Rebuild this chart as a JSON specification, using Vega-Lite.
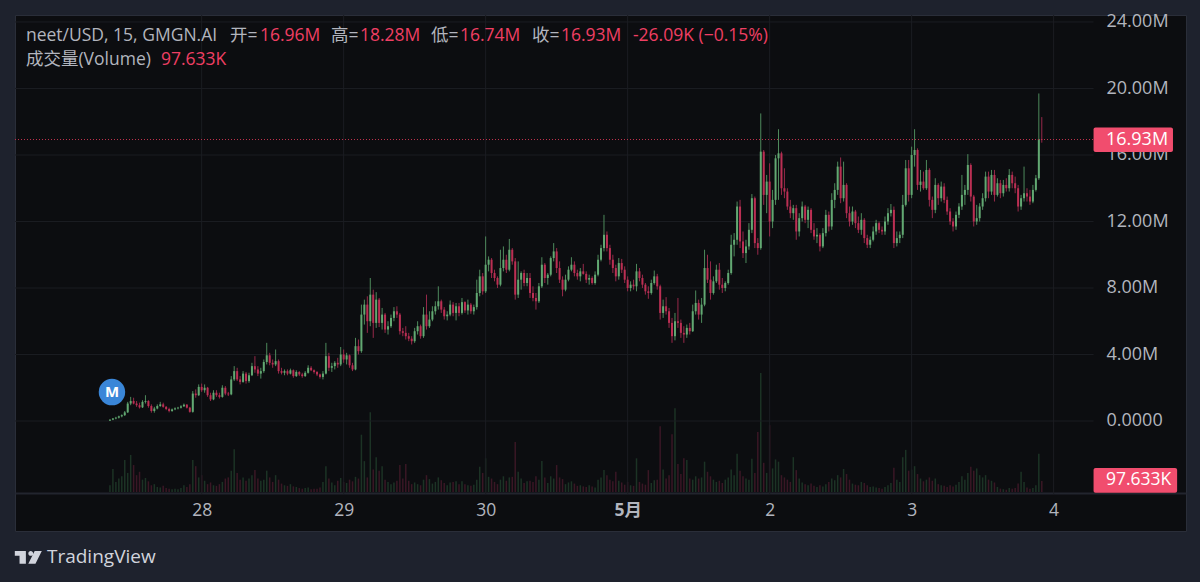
{
"$schema":"https://vega.github.io/schema/vega-lite/v6.json",
"width":1171,"height":516,"autosize":"none",
"padding":{"left":15,"top":15,"right":14,"bottom":51},
"background":"#1e222d",
"config":{"view":{"fill":"#0c0d10","stroke":"#2a2e39"},"text":{"font":"Open Sans, Noto Sans CJK SC","fontSize":17.5,"align":"left","baseline":"middle"}},
"datasets":{
"one":[{}],
"gridY":[{"p":0},{"p":4},{"p":8},{"p":12},{"p":16},{"p":20},{"p":24}],
"gridX":[{"i":62},{"i":158},{"i":254},{"i":350},{"i":446},{"i":542},{"i":638}],
"bars":[
{"i":0,"o":0.02,"h":0.1,"l":0,"c":0.08,"v":60},{"i":2,"o":0.08,"h":0.18,"l":0.05,"c":0.15,"v":205},{"i":4,"o":0.15,"h":0.25,"l":0.1,"c":0.2,"v":90},{"i":6,"o":0.2,"h":0.32,"l":0.15,"c":0.28,"v":120},{"i":8,"o":0.28,"h":0.4,"l":0.22,"c":0.35,"v":140},{"i":10,"o":0.35,"h":0.6,"l":0.3,"c":0.52,"v":285},{"i":12,"o":0.52,"h":1.15,"l":0.48,"c":1.05,"v":170},{"i":14,"o":1.05,"h":1.45,"l":0.95,"c":1.2,"v":330},{"i":16,"o":1.2,"h":1.4,"l":1,"c":1.05,"v":240},{"i":18,"o":1.05,"h":1.2,"l":0.85,"c":0.95,"v":150},
{"i":20,"o":0.95,"h":1.1,"l":0.75,"c":0.82,"v":180},{"i":22,"o":0.82,"h":1.25,"l":0.78,"c":1.15,"v":110},{"i":24,"o":1.15,"h":1.55,"l":1.05,"c":1.2,"v":125},{"i":26,"o":1.2,"h":1.25,"l":0.8,"c":0.9,"v":95},{"i":28,"o":0.9,"h":1,"l":0.5,"c":0.6,"v":60},{"i":30,"o":0.6,"h":0.85,"l":0.5,"c":0.75,"v":70},{"i":32,"o":0.75,"h":1,"l":0.7,"c":0.9,"v":45},{"i":34,"o":0.9,"h":1.15,"l":0.85,"c":1,"v":40},{"i":36,"o":1,"h":1.1,"l":0.8,"c":0.85,"v":55},{"i":38,"o":0.85,"h":0.9,"l":0.65,"c":0.72,"v":35},
{"i":40,"o":0.72,"h":0.8,"l":0.52,"c":0.6,"v":30},{"i":42,"o":0.6,"h":0.75,"l":0.55,"c":0.7,"v":25},{"i":44,"o":0.7,"h":0.82,"l":0.65,"c":0.76,"v":30},{"i":46,"o":0.76,"h":0.85,"l":0.7,"c":0.8,"v":25},{"i":48,"o":0.8,"h":0.95,"l":0.75,"c":0.88,"v":35},{"i":50,"o":0.88,"h":1.05,"l":0.85,"c":0.98,"v":60},{"i":52,"o":0.98,"h":1.02,"l":0.75,"c":0.8,"v":45},{"i":54,"o":0.8,"h":0.85,"l":0.5,"c":0.55,"v":70},{"i":56,"o":0.55,"h":1.8,"l":0.5,"c":1.65,"v":285},{"i":58,"o":1.65,"h":1.9,"l":1.4,"c":1.55,"v":230},
{"i":60,"o":1.55,"h":2.2,"l":1.5,"c":2.05,"v":130},{"i":62,"o":2.05,"h":2.25,"l":1.75,"c":1.85,"v":150},{"i":64,"o":1.85,"h":2.2,"l":1.7,"c":2,"v":100},{"i":66,"o":2,"h":2.05,"l":1.45,"c":1.55,"v":70},{"i":68,"o":1.55,"h":1.7,"l":1.2,"c":1.3,"v":85},{"i":70,"o":1.3,"h":1.85,"l":1.25,"c":1.7,"v":60},{"i":72,"o":1.7,"h":1.85,"l":1.45,"c":1.55,"v":55},{"i":74,"o":1.55,"h":1.7,"l":1.35,"c":1.45,"v":70},{"i":76,"o":1.45,"h":2.15,"l":1.4,"c":2,"v":90},{"i":78,"o":2,"h":2.1,"l":1.55,"c":1.65,"v":120},
{"i":80,"o":1.65,"h":1.75,"l":1.5,"c":1.6,"v":130},{"i":82,"o":1.6,"h":2.7,"l":1.55,"c":2.5,"v":190},{"i":84,"o":2.5,"h":3.3,"l":2.4,"c":3,"v":380},{"i":86,"o":3,"h":3.2,"l":2.4,"c":2.5,"v":170},{"i":88,"o":2.5,"h":2.7,"l":2.2,"c":2.35,"v":110},{"i":90,"o":2.35,"h":3,"l":2.3,"c":2.85,"v":130},{"i":92,"o":2.85,"h":2.95,"l":2.25,"c":2.4,"v":100},{"i":94,"o":2.4,"h":2.9,"l":2.3,"c":2.75,"v":120},{"i":96,"o":2.75,"h":3.5,"l":2.7,"c":3.3,"v":150},{"i":98,"o":3.3,"h":3.9,"l":2.9,"c":3.1,"v":195},
{"i":100,"o":3.1,"h":3.3,"l":2.7,"c":2.85,"v":120},{"i":102,"o":2.85,"h":3.2,"l":2.55,"c":3,"v":100},{"i":104,"o":3,"h":3.7,"l":2.9,"c":3.55,"v":110},{"i":106,"o":3.55,"h":4.7,"l":3.4,"c":3.95,"v":190},{"i":108,"o":3.95,"h":4.1,"l":3.35,"c":3.5,"v":130},{"i":110,"o":3.5,"h":3.7,"l":3.2,"c":3.4,"v":90},{"i":112,"o":3.4,"h":4.3,"l":3.3,"c":3.6,"v":150},{"i":114,"o":3.6,"h":3.7,"l":2.85,"c":3,"v":110},{"i":116,"o":3,"h":3.2,"l":2.8,"c":2.9,"v":75},{"i":118,"o":2.9,"h":3.1,"l":2.75,"c":3,"v":60},
{"i":120,"o":3,"h":3.1,"l":2.75,"c":2.85,"v":55},{"i":122,"o":2.85,"h":3.15,"l":2.8,"c":3.05,"v":70},{"i":124,"o":3.05,"h":3.1,"l":2.6,"c":2.7,"v":50},{"i":126,"o":2.7,"h":3.05,"l":2.65,"c":2.95,"v":45},{"i":128,"o":2.95,"h":3,"l":2.7,"c":2.8,"v":35},{"i":130,"o":2.8,"h":2.9,"l":2.6,"c":2.7,"v":30},{"i":132,"o":2.7,"h":3,"l":2.65,"c":2.9,"v":35},{"i":134,"o":2.9,"h":3.35,"l":2.85,"c":3.2,"v":40},{"i":136,"o":3.2,"h":3.3,"l":3,"c":3.05,"v":25},{"i":138,"o":3.05,"h":3.1,"l":2.85,"c":2.95,"v":30},
{"i":140,"o":2.95,"h":3,"l":2.7,"c":2.8,"v":30},{"i":142,"o":2.8,"h":2.85,"l":2.55,"c":2.65,"v":40},{"i":144,"o":2.65,"h":3,"l":2.5,"c":2.85,"v":90},{"i":146,"o":2.85,"h":4.7,"l":2.8,"c":3.9,"v":230},{"i":148,"o":3.9,"h":4.1,"l":3,"c":3.2,"v":120},{"i":150,"o":3.2,"h":3.5,"l":2.95,"c":3.3,"v":85},{"i":152,"o":3.3,"h":3.6,"l":3.1,"c":3.5,"v":60},{"i":154,"o":3.5,"h":3.8,"l":3.2,"c":3.4,"v":100},{"i":156,"o":3.4,"h":4.45,"l":3.3,"c":4,"v":125},{"i":158,"o":4,"h":4.3,"l":3.5,"c":3.7,"v":90},
{"i":160,"o":3.7,"h":4.1,"l":3.4,"c":3.95,"v":80},{"i":162,"o":3.95,"h":4,"l":3.2,"c":3.35,"v":110},{"i":164,"o":3.35,"h":3.5,"l":3,"c":3.1,"v":95},{"i":166,"o":3.1,"h":5,"l":3.05,"c":4.5,"v":135},{"i":168,"o":4.5,"h":4.9,"l":4,"c":4.2,"v":120},{"i":170,"o":4.2,"h":7,"l":4.1,"c":6.4,"v":510},{"i":172,"o":6.4,"h":7.3,"l":5.8,"c":7,"v":275},{"i":174,"o":7,"h":7.5,"l":5.3,"c":6,"v":130},{"i":176,"o":6,"h":8.6,"l":5.7,"c":7.6,"v":710},{"i":178,"o":7.6,"h":7.9,"l":5,"c":5.9,"v":200},
{"i":180,"o":5.9,"h":7.75,"l":5.6,"c":7.3,"v":310},{"i":182,"o":7.3,"h":7.4,"l":5.65,"c":5.9,"v":190},{"i":184,"o":5.9,"h":6.8,"l":5.5,"c":6.4,"v":230},{"i":186,"o":6.4,"h":6.5,"l":5.3,"c":5.5,"v":110},{"i":188,"o":5.5,"h":6,"l":5.2,"c":5.7,"v":90},{"i":190,"o":5.7,"h":6.4,"l":5.6,"c":6.2,"v":70},{"i":192,"o":6.2,"h":6.85,"l":6,"c":6.6,"v":85},{"i":194,"o":6.6,"h":6.9,"l":6.2,"c":6.4,"v":100},{"i":196,"o":6.4,"h":6.5,"l":5.2,"c":5.4,"v":240},{"i":198,"o":5.4,"h":5.6,"l":5.1,"c":5.3,"v":120},
{"i":200,"o":5.3,"h":5.7,"l":4.9,"c":5.1,"v":250},{"i":202,"o":5.1,"h":5.3,"l":4.8,"c":4.95,"v":100},{"i":204,"o":4.95,"h":5.1,"l":4.6,"c":4.8,"v":70},{"i":206,"o":4.8,"h":5.6,"l":4.7,"c":5.4,"v":85},{"i":208,"o":5.4,"h":6,"l":5.2,"c":5.7,"v":70},{"i":210,"o":5.7,"h":5.8,"l":4.95,"c":5.1,"v":60},{"i":212,"o":5.1,"h":6.85,"l":5,"c":6.4,"v":110},{"i":214,"o":6.4,"h":7.6,"l":5.5,"c":5.7,"v":150},{"i":216,"o":5.7,"h":6.6,"l":5.6,"c":6.1,"v":115},{"i":218,"o":6.1,"h":6.9,"l":6,"c":6.6,"v":75},
{"i":220,"o":6.6,"h":7.2,"l":6.4,"c":6.9,"v":90},{"i":222,"o":6.9,"h":8.1,"l":6.7,"c":7.2,"v":130},{"i":224,"o":7.2,"h":7.3,"l":6.5,"c":6.7,"v":105},{"i":226,"o":6.7,"h":6.85,"l":6.1,"c":6.3,"v":80},{"i":228,"o":6.3,"h":6.6,"l":6.05,"c":6.4,"v":60},{"i":230,"o":6.4,"h":7.25,"l":6.3,"c":7,"v":85},{"i":232,"o":7,"h":7.15,"l":6.3,"c":6.5,"v":90},{"i":234,"o":6.5,"h":7.1,"l":6.05,"c":6.9,"v":95},{"i":236,"o":6.9,"h":7.1,"l":6.3,"c":6.5,"v":70},{"i":238,"o":6.5,"h":7.4,"l":6.4,"c":7.15,"v":95},
{"i":240,"o":7.15,"h":7.2,"l":6.5,"c":6.65,"v":70},{"i":242,"o":6.65,"h":7.3,"l":6.4,"c":7,"v":60},{"i":244,"o":7,"h":7.1,"l":6.45,"c":6.6,"v":55},{"i":246,"o":6.6,"h":7,"l":6.4,"c":6.85,"v":65},{"i":248,"o":6.85,"h":8.5,"l":6.7,"c":7.7,"v":110},{"i":250,"o":7.7,"h":9.1,"l":7.5,"c":8.7,"v":225},{"i":252,"o":8.7,"h":8.9,"l":7.6,"c":7.8,"v":170},{"i":254,"o":7.8,"h":11.1,"l":7.7,"c":9.4,"v":300},{"i":256,"o":9.4,"h":9.9,"l":9,"c":9.7,"v":135},{"i":258,"o":9.7,"h":9.8,"l":8.6,"c":8.9,"v":120},
{"i":260,"o":8.9,"h":9.1,"l":8.4,"c":8.6,"v":90},{"i":262,"o":8.6,"h":8.7,"l":8,"c":8.2,"v":70},{"i":264,"o":8.2,"h":10.3,"l":8.1,"c":9.2,"v":110},{"i":266,"o":9.2,"h":10.5,"l":9,"c":9.7,"v":140},{"i":268,"o":9.7,"h":10,"l":8.9,"c":9.1,"v":100},{"i":270,"o":9.1,"h":10.95,"l":9,"c":10.3,"v":130},{"i":272,"o":10.3,"h":10.4,"l":9.4,"c":9.6,"v":135},{"i":274,"o":9.6,"h":9.8,"l":7.3,"c":7.6,"v":445},{"i":276,"o":7.6,"h":9.6,"l":7.4,"c":8.5,"v":180},{"i":278,"o":8.5,"h":9,"l":7.9,"c":8.9,"v":120},
{"i":280,"o":8.9,"h":9.1,"l":8.1,"c":8.3,"v":80},{"i":282,"o":8.3,"h":8.9,"l":8.1,"c":8.6,"v":95},{"i":284,"o":8.6,"h":8.9,"l":7.4,"c":7.7,"v":100},{"i":286,"o":7.7,"h":8.1,"l":7.2,"c":7.4,"v":90},{"i":288,"o":7.4,"h":7.7,"l":6.7,"c":7.2,"v":140},{"i":290,"o":7.2,"h":8.3,"l":7.1,"c":8.1,"v":110},{"i":292,"o":8.1,"h":9.85,"l":8,"c":9.4,"v":275},{"i":294,"o":9.4,"h":9.5,"l":8.3,"c":8.6,"v":130},{"i":296,"o":8.6,"h":8.9,"l":8.2,"c":8.8,"v":80},{"i":298,"o":8.8,"h":9.9,"l":8.7,"c":9.8,"v":140},
{"i":300,"o":9.8,"h":10.7,"l":9.6,"c":10.2,"v":120},{"i":302,"o":10.2,"h":10.4,"l":8.9,"c":9.2,"v":240},{"i":304,"o":9.2,"h":9.6,"l":8.3,"c":8.5,"v":130},{"i":306,"o":8.5,"h":8.7,"l":7.5,"c":7.9,"v":115},{"i":308,"o":7.9,"h":8.8,"l":7.8,"c":8.5,"v":70},{"i":310,"o":8.5,"h":9.3,"l":8.4,"c":9.1,"v":85},{"i":312,"o":9.1,"h":9.85,"l":9,"c":9.4,"v":95},{"i":314,"o":9.4,"h":9.6,"l":8.7,"c":8.9,"v":75},{"i":316,"o":8.9,"h":9.1,"l":8.5,"c":8.7,"v":55},{"i":318,"o":8.7,"h":9.2,"l":8.4,"c":9,"v":60},
{"i":320,"o":9,"h":9.45,"l":8.8,"c":8.85,"v":50},{"i":322,"o":8.85,"h":9,"l":8.3,"c":8.5,"v":45},{"i":324,"o":8.5,"h":8.8,"l":8.2,"c":8.6,"v":60},{"i":326,"o":8.6,"h":8.7,"l":8.2,"c":8.3,"v":50},{"i":328,"o":8.3,"h":9,"l":8.2,"c":8.8,"v":40},{"i":330,"o":8.8,"h":10,"l":8.7,"c":9.7,"v":110},{"i":332,"o":9.7,"h":10.6,"l":9.6,"c":10.4,"v":130},{"i":334,"o":10.4,"h":12.4,"l":10.2,"c":11.2,"v":195},{"i":336,"o":11.2,"h":11.4,"l":10.2,"c":10.4,"v":150},{"i":338,"o":10.4,"h":10.6,"l":9.4,"c":9.7,"v":110},
{"i":340,"o":9.7,"h":10,"l":8.9,"c":9.2,"v":95},{"i":342,"o":9.2,"h":9.4,"l":8.4,"c":8.7,"v":180},{"i":344,"o":8.7,"h":9.8,"l":8.5,"c":9.5,"v":100},{"i":346,"o":9.5,"h":9.75,"l":8.9,"c":9.1,"v":85},{"i":348,"o":9.1,"h":9.3,"l":8.3,"c":8.5,"v":65},{"i":350,"o":8.5,"h":8.7,"l":7.8,"c":8,"v":90},{"i":352,"o":8,"h":8.4,"l":7.8,"c":8.2,"v":60},{"i":354,"o":8.2,"h":8.5,"l":7.9,"c":8.1,"v":55},{"i":356,"o":8.1,"h":9.45,"l":7.8,"c":9,"v":300},{"i":358,"o":9,"h":9.2,"l":8.4,"c":8.6,"v":90},
{"i":360,"o":8.6,"h":8.8,"l":8,"c":8.2,"v":75},{"i":362,"o":8.2,"h":8.3,"l":7.6,"c":7.8,"v":65},{"i":364,"o":7.8,"h":8.1,"l":7.35,"c":7.7,"v":195},{"i":366,"o":7.7,"h":8.5,"l":7.6,"c":8.3,"v":80},{"i":368,"o":8.3,"h":9.05,"l":8.2,"c":8.7,"v":105},{"i":370,"o":8.7,"h":8.85,"l":7.9,"c":8.1,"v":110},{"i":372,"o":8.1,"h":8.2,"l":6.1,"c":6.5,"v":585},{"i":374,"o":6.5,"h":7.3,"l":6.2,"c":6.9,"v":200},{"i":376,"o":6.9,"h":7.45,"l":6.4,"c":6.6,"v":120},{"i":378,"o":6.6,"h":6.8,"l":5.6,"c":5.9,"v":150},
{"i":380,"o":5.9,"h":6.2,"l":4.7,"c":5.1,"v":515},{"i":382,"o":5.1,"h":6.5,"l":4.85,"c":6,"v":745},{"i":384,"o":6,"h":7.4,"l":5.6,"c":5.9,"v":250},{"i":386,"o":5.9,"h":6.1,"l":5,"c":5.3,"v":160},{"i":388,"o":5.3,"h":5.7,"l":4.7,"c":5.2,"v":300},{"i":390,"o":5.2,"h":5.8,"l":5,"c":5.6,"v":285},{"i":392,"o":5.6,"h":5.9,"l":5.2,"c":5.4,"v":120},{"i":394,"o":5.4,"h":7,"l":5.35,"c":6.6,"v":110},{"i":396,"o":6.6,"h":7.85,"l":6.4,"c":7.1,"v":140},{"i":398,"o":7.1,"h":7.3,"l":6.1,"c":6.4,"v":120},
{"i":400,"o":6.4,"h":7.4,"l":5.9,"c":7,"v":130},{"i":402,"o":7,"h":10.3,"l":6.9,"c":9.2,"v":270},{"i":404,"o":9.2,"h":10,"l":8.3,"c":8.5,"v":180},{"i":406,"o":8.5,"h":9.6,"l":7.3,"c":7.7,"v":140},{"i":408,"o":7.7,"h":8.7,"l":7.6,"c":8.4,"v":110},{"i":410,"o":8.4,"h":9.4,"l":8.3,"c":9.1,"v":90},{"i":412,"o":9.1,"h":9.5,"l":7.9,"c":8.2,"v":100},{"i":414,"o":8.2,"h":8.6,"l":7.7,"c":8,"v":80},{"i":416,"o":8,"h":8.4,"l":7.8,"c":8.3,"v":110},{"i":418,"o":8.3,"h":9.1,"l":8.2,"c":8.9,"v":130},
{"i":420,"o":8.9,"h":11.2,"l":8.8,"c":10.6,"v":200},{"i":422,"o":10.6,"h":11.3,"l":9.9,"c":10.9,"v":150},{"i":424,"o":10.9,"h":13.2,"l":10.6,"c":12.9,"v":340},{"i":426,"o":12.9,"h":13.3,"l":10.4,"c":10.8,"v":190},{"i":428,"o":10.8,"h":11.4,"l":9.8,"c":10.1,"v":140},{"i":430,"o":10.1,"h":10.9,"l":9.5,"c":10.5,"v":120},{"i":432,"o":10.5,"h":11.9,"l":10.3,"c":11.5,"v":110},{"i":434,"o":11.5,"h":13.65,"l":11.3,"c":13.4,"v":295},{"i":436,"o":13.4,"h":13.5,"l":10.4,"c":10.7,"v":170},{"i":438,"o":10.7,"h":11,"l":10,"c":10.4,"v":535},
{"i":440,"o":10.4,"h":18.5,"l":10.3,"c":16.2,"v":1060},{"i":442,"o":16.2,"h":16.3,"l":13,"c":13.6,"v":260},{"i":444,"o":13.6,"h":14.8,"l":12.5,"c":14.4,"v":170},{"i":446,"o":14.4,"h":15.5,"l":11.1,"c":12,"v":595},{"i":448,"o":12,"h":13.9,"l":11.6,"c":13.3,"v":210},{"i":450,"o":13.3,"h":16,"l":13,"c":15.8,"v":290},{"i":452,"o":15.8,"h":17.55,"l":13.3,"c":16.1,"v":270},{"i":454,"o":16.1,"h":16.2,"l":13.6,"c":14,"v":150},{"i":456,"o":14,"h":15.2,"l":13.4,"c":13.8,"v":130},{"i":458,"o":13.8,"h":14,"l":12.7,"c":12.9,"v":110},
{"i":460,"o":12.9,"h":13.3,"l":12.2,"c":12.5,"v":90},{"i":462,"o":12.5,"h":13,"l":12.1,"c":12.8,"v":310},{"i":464,"o":12.8,"h":13,"l":10.9,"c":11.4,"v":195},{"i":466,"o":11.4,"h":12.5,"l":11.1,"c":12.2,"v":120},{"i":468,"o":12.2,"h":13.2,"l":12,"c":12.9,"v":85},{"i":470,"o":12.9,"h":13,"l":11.9,"c":12.1,"v":70},{"i":472,"o":12.1,"h":12.9,"l":11.6,"c":12.7,"v":60},{"i":474,"o":12.7,"h":12.8,"l":11.3,"c":11.5,"v":75},{"i":476,"o":11.5,"h":11.9,"l":10.9,"c":11.1,"v":55},{"i":478,"o":11.1,"h":11.6,"l":10.7,"c":11.2,"v":45},
{"i":480,"o":11.2,"h":11.3,"l":10.2,"c":10.5,"v":60},{"i":482,"o":10.5,"h":11.6,"l":10.4,"c":11.3,"v":50},{"i":484,"o":11.3,"h":12.7,"l":11.1,"c":12.4,"v":70},{"i":486,"o":12.4,"h":12.6,"l":11.4,"c":11.7,"v":90},{"i":488,"o":11.7,"h":13.7,"l":11.5,"c":13.3,"v":120},{"i":490,"o":13.3,"h":14.3,"l":12.8,"c":13.9,"v":105},{"i":492,"o":13.9,"h":15.6,"l":13.6,"c":15.3,"v":150},{"i":494,"o":15.3,"h":15.85,"l":13.1,"c":13.4,"v":130},{"i":496,"o":13.4,"h":15.6,"l":13.2,"c":14.2,"v":205},{"i":498,"o":14.2,"h":14.3,"l":12.2,"c":12.5,"v":160},
{"i":500,"o":12.5,"h":12.9,"l":11.7,"c":12,"v":110},{"i":502,"o":12,"h":12.9,"l":11.8,"c":12.6,"v":75},{"i":504,"o":12.6,"h":12.7,"l":11.6,"c":11.9,"v":65},{"i":506,"o":11.9,"h":12.3,"l":11.3,"c":11.5,"v":60},{"i":508,"o":11.5,"h":12.5,"l":11.2,"c":12.1,"v":90},{"i":510,"o":12.1,"h":12.2,"l":10.7,"c":11,"v":80},{"i":512,"o":11,"h":11.2,"l":10.4,"c":10.6,"v":60},{"i":514,"o":10.6,"h":11.1,"l":10.4,"c":10.9,"v":45},{"i":516,"o":10.9,"h":11.7,"l":10.8,"c":11.4,"v":50},{"i":518,"o":11.4,"h":12.1,"l":11.2,"c":11.9,"v":40},
{"i":520,"o":11.9,"h":12,"l":11.3,"c":11.5,"v":35},{"i":522,"o":11.5,"h":11.7,"l":11.2,"c":11.4,"v":30},{"i":524,"o":11.4,"h":12.3,"l":11.2,"c":12,"v":45},{"i":526,"o":12,"h":12.8,"l":11.8,"c":12.5,"v":60},{"i":528,"o":12.5,"h":13.05,"l":12.3,"c":12.7,"v":80},{"i":530,"o":12.7,"h":12.9,"l":10.4,"c":10.7,"v":215},{"i":532,"o":10.7,"h":11.4,"l":10.5,"c":11,"v":110},{"i":534,"o":11,"h":11.4,"l":10.7,"c":11.2,"v":90},{"i":536,"o":11.2,"h":13.6,"l":11,"c":13,"v":310},{"i":538,"o":13,"h":15.7,"l":12.9,"c":15.2,"v":375},
{"i":540,"o":15.2,"h":15.7,"l":13.2,"c":13.6,"v":190},{"i":542,"o":13.6,"h":16.5,"l":13.4,"c":16,"v":200},{"i":544,"o":16,"h":17.55,"l":15.3,"c":16.3,"v":230},{"i":546,"o":16.3,"h":16.4,"l":13.9,"c":14.2,"v":160},{"i":548,"o":14.2,"h":15.1,"l":13.8,"c":14.4,"v":120},{"i":550,"o":14.4,"h":15,"l":13.9,"c":14,"v":95},{"i":552,"o":14,"h":15.7,"l":13.9,"c":15.1,"v":110},{"i":554,"o":15.1,"h":15.2,"l":12.9,"c":13.3,"v":130},{"i":556,"o":13.3,"h":13.5,"l":12.2,"c":12.7,"v":100},{"i":558,"o":12.7,"h":14.6,"l":12.5,"c":14.2,"v":120},
{"i":560,"o":14.2,"h":14.3,"l":13,"c":13.4,"v":70},{"i":562,"o":13.4,"h":14.4,"l":13.2,"c":14.1,"v":60},{"i":564,"o":14.1,"h":14.3,"l":13.1,"c":13.3,"v":55},{"i":566,"o":13.3,"h":13.5,"l":12.4,"c":12.6,"v":45},{"i":568,"o":12.6,"h":12.8,"l":11.8,"c":12,"v":60},{"i":570,"o":12,"h":12.2,"l":11.4,"c":11.7,"v":50},{"i":572,"o":11.7,"h":12.6,"l":11.5,"c":12.4,"v":65},{"i":574,"o":12.4,"h":13.1,"l":12.2,"c":12.9,"v":90},{"i":576,"o":12.9,"h":14.8,"l":12.7,"c":13.6,"v":140},{"i":578,"o":13.6,"h":14.2,"l":13,"c":13.9,"v":110},
{"i":580,"o":13.9,"h":16.05,"l":13.6,"c":15.4,"v":170},{"i":582,"o":15.4,"h":15.5,"l":13.2,"c":13.5,"v":225},{"i":584,"o":13.5,"h":13.6,"l":11.7,"c":12,"v":190},{"i":586,"o":12,"h":13,"l":11.8,"c":12.2,"v":210},{"i":588,"o":12.2,"h":13.1,"l":12,"c":12.9,"v":150},{"i":590,"o":12.9,"h":13.7,"l":12.7,"c":13.4,"v":130},{"i":592,"o":13.4,"h":15,"l":13.2,"c":14.7,"v":150},{"i":594,"o":14.7,"h":15,"l":13.4,"c":13.8,"v":110},{"i":596,"o":13.8,"h":15.1,"l":13.6,"c":14.8,"v":100},{"i":598,"o":14.8,"h":15.1,"l":13.2,"c":13.6,"v":85},
{"i":600,"o":13.6,"h":14.6,"l":13.5,"c":14.3,"v":45},{"i":602,"o":14.3,"h":14.5,"l":13.4,"c":13.7,"v":30},{"i":604,"o":13.7,"h":14.5,"l":13.5,"c":14.2,"v":25},{"i":606,"o":14.2,"h":14.6,"l":13.8,"c":14,"v":20},{"i":608,"o":14,"h":15.15,"l":13.8,"c":14.8,"v":35},{"i":610,"o":14.8,"h":15,"l":14,"c":14.3,"v":30},{"i":612,"o":14.3,"h":14.7,"l":13.7,"c":14,"v":35},{"i":614,"o":14,"h":14.2,"l":12.6,"c":12.9,"v":75},{"i":616,"o":12.9,"h":13.6,"l":12.7,"c":13.4,"v":180},{"i":618,"o":13.4,"h":15.3,"l":13.2,"c":13.7,"v":90},
{"i":620,"o":13.7,"h":14,"l":13.2,"c":13.5,"v":40},{"i":622,"o":13.5,"h":13.9,"l":13,"c":13.2,"v":30},{"i":624,"o":13.2,"h":14.2,"l":13.1,"c":13.9,"v":35},{"i":626,"o":13.9,"h":14.8,"l":13.8,"c":14.6,"v":60},{"i":628,"o":14.6,"h":19.7,"l":14.5,"c":16.96,"v":340},{"i":630,"o":16.96,"h":18.28,"l":16.74,"c":16.93,"v":97.633}
]},
"resolve":{"scale":{"y":"independent"}},
"layer":[
{"data":{"name":"bars"},"mark":{"type":"rule","strokeWidth":1.5},
"encoding":{"x":{"field":"i","type":"quantitative"},"y":{"field":"v","type":"quantitative","axis":null,"scale":{"domain":[-347,4245],"nice":false,"zero":false}},"y2":{"datum":0},
"color":{"condition":{"test":"datum.c >= datum.o","value":"#1c3325"},"value":"#3a1725"}}},
{"layer":[
{"data":{"name":"gridY"},"mark":{"type":"rule","color":"#1b1d22","strokeWidth":1},
"encoding":{"x":{"datum":-64.2},"x2":{"datum":665},"y":{"field":"p","type":"quantitative","scale":{"domain":[-6.617,24.42],"nice":false,"zero":false},
"axis":{"orient":"right","offset":-92,"values":[0,4,8,12,16,20,24],"title":null,"grid":false,"ticks":false,"domain":false,"labelColor":"#b2b5be","labelFont":"Open Sans","labelFontSize":18,"labelPadding":12,"labelFlush":false,"labelBound":false,"labelOverlap":false,
"labelExpr":"datum.value == 0 ? '0.0000' : format(datum.value, '.2f') + 'M'"}}}},
{"data":{"name":"gridX"},"mark":{"type":"rule","color":"#1b1d22","strokeWidth":1},
"encoding":{"x":{"field":"i","type":"quantitative","scale":{"domain":[-64.2,727.5],"nice":false,"zero":false},
"axis":{"values":[62,158,254,350,446,542,638],"title":null,"orient":"bottom","offset":-38,"grid":false,"ticks":false,"domainColor":"#22252e","domainWidth":2,"labelColor":"#b2b5be","labelFont":"Open Sans, Noto Sans CJK SC","labelFontSize":17.5,"labelPadding":8,
"labelFontWeight":{"condition":{"test":"datum.value == 350","value":"bold"},"value":"normal"},
"labelExpr":"datum.value == 62 ? '28' : datum.value == 158 ? '29' : datum.value == 254 ? '30' : datum.value == 350 ? '5月' : datum.value == 446 ? '2' : datum.value == 542 ? '3' : '4'"}},
"y":{"datum":24.42},"y2":{"datum":-4.4}}},
{"data":{"name":"bars"},"mark":{"type":"rule","strokeWidth":1},
"encoding":{"x":{"field":"i","type":"quantitative"},"y":{"field":"l","type":"quantitative"},"y2":{"field":"h"},
"color":{"condition":{"test":"datum.c >= datum.o","value":"#4e8a5c"},"value":"#97294a"}}},
{"data":{"name":"bars"},"mark":{"type":"rule","strokeWidth":2},
"encoding":{"x":{"field":"i","type":"quantitative"},"y":{"field":"o","type":"quantitative"},"y2":{"field":"c"},
"color":{"condition":{"test":"datum.c >= datum.o","value":"#62a872"},"value":"#bb2f53"}}},
{"data":{"name":"one"},"mark":{"type":"rule","color":"#c2324e","strokeWidth":1,"strokeDash":[1,2]},
"encoding":{"x":{"datum":-64.2},"x2":{"datum":665},"y":{"datum":16.93}}},
{"data":{"name":"one"},"mark":{"type":"rect","color":"#f14d6e","cornerRadius":2},
"encoding":{"x":{"datum":665},"x2":{"datum":718.7},"y":{"datum":17.65},"y2":{"datum":16.18}}},
{"data":{"name":"one"},"mark":{"type":"rect","color":"#f14d6e","cornerRadius":2},
"encoding":{"x":{"datum":665},"x2":{"datum":721.5},"y":{"datum":-2.83},"y2":{"datum":-4.31}}},
{"data":{"name":"one"},"mark":{"type":"text","text":"16.93M","color":"#ffffff","fontSize":18,"font":"Open Sans"},
"encoding":{"x":{"datum":673.4},"y":{"datum":16.93}}},
{"data":{"name":"one"},"mark":{"type":"text","text":"97.633K","color":"#ffffff","fontSize":17.5,"font":"Open Sans"},
"encoding":{"x":{"datum":673.4},"y":{"datum":-3.57}}},
{"data":{"name":"one"},"mark":{"type":"point","shape":"circle","size":700,"filled":true,"opacity":1,"color":"#3a86d8"},
"encoding":{"x":{"datum":1.35},"y":{"datum":1.74}}},
{"data":{"name":"one"},"mark":{"type":"text","text":"M","align":"center","color":"#ffffff","fontSize":15,"fontWeight":"bold"},
"encoding":{"x":{"datum":1.35},"y":{"datum":1.74}}},
{"data":{"name":"one"},"mark":{"type":"text","text":"neet/USD, 15, GMGN.AI","color":"#b2b5be"},
"encoding":{"x":{"datum":-56.8},"y":{"datum":23.16}}},
{"data":{"name":"one"},"mark":{"type":"text","text":"开=","color":"#b2b5be"},
"encoding":{"x":{"datum":81.1},"y":{"datum":23.16}}},
{"data":{"name":"one"},"mark":{"type":"text","text":"16.96M","color":"#ef3f63"},
"encoding":{"x":{"datum":101.4},"y":{"datum":23.16}}},
{"data":{"name":"one"},"mark":{"type":"text","text":"高=","color":"#b2b5be"},
"encoding":{"x":{"datum":149.4},"y":{"datum":23.16}}},
{"data":{"name":"one"},"mark":{"type":"text","text":"18.28M","color":"#ef3f63"},
"encoding":{"x":{"datum":169},"y":{"datum":23.16}}},
{"data":{"name":"one"},"mark":{"type":"text","text":"低=","color":"#b2b5be"},
"encoding":{"x":{"datum":217},"y":{"datum":23.16}}},
{"data":{"name":"one"},"mark":{"type":"text","text":"16.74M","color":"#ef3f63"},
"encoding":{"x":{"datum":236.6},"y":{"datum":23.16}}},
{"data":{"name":"one"},"mark":{"type":"text","text":"收=","color":"#b2b5be"},
"encoding":{"x":{"datum":285.3},"y":{"datum":23.16}}},
{"data":{"name":"one"},"mark":{"type":"text","text":"16.93M","color":"#ef3f63"},
"encoding":{"x":{"datum":304.9},"y":{"datum":23.16}}},
{"data":{"name":"one"},"mark":{"type":"text","text":"-26.09K (−0.15%)","color":"#ef3f63"},
"encoding":{"x":{"datum":353.6},"y":{"datum":23.16}}},
{"data":{"name":"one"},"mark":{"type":"text","text":"成交量(Volume)","color":"#b2b5be"},
"encoding":{"x":{"datum":-56.8},"y":{"datum":21.71}}},
{"data":{"name":"one"},"mark":{"type":"text","text":"97.633K","color":"#ef3f63"},
"encoding":{"x":{"datum":34.5},"y":{"datum":21.71}}},
{"data":{"name":"one"},"mark":{"type":"text","text":"TradingView","color":"#d1d4dc","fontSize":19},
"encoding":{"x":{"datum":-42.6},"y":{"datum":-8.18}}},
{"data":{"name":"one"},"mark":{"type":"point","filled":true,"opacity":1,"color":"#d1d4dc","size":729,"shape":"M-1 -.47L-.18 -.47L-.18 .47L-.65 .47L-.65 -.12L-1 -.12ZM.47 -.47L1 -.47L.53 .47L0 .47ZM0 -.29A.18 .18 0 1 0 .36 -.29A.18 .18 0 1 0 0 -.29Z"},
"encoding":{"x":{"datum":-55.2},"y":{"datum":-8.2}}}
]}
]
}
